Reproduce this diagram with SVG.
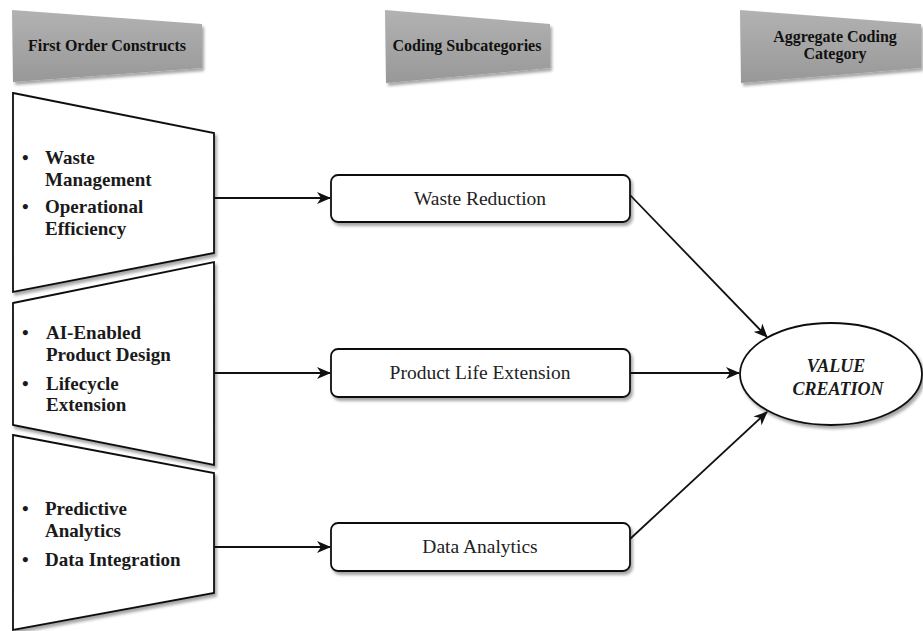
<svg xmlns="http://www.w3.org/2000/svg" width="923" height="631" viewBox="0 0 923 631">
  <style>
    .hdr { fill: url(#hdrGrad); filter: url(#shadow); }
    .hdrText { font-family: "Liberation Serif", "Times New Roman", serif; font-weight: bold; font-size: 16px; fill: #111111; text-anchor: middle; }
    .construct { fill: #ffffff; stroke: #111111; stroke-width: 1.8; filter: url(#shadow); }
    .item { font-family: "Liberation Serif", "Times New Roman", serif; font-weight: bold; font-size: 19px; fill: #1a1a1a; }
    .sub { fill: #ffffff; stroke: #111111; stroke-width: 1.8; filter: url(#shadow); }
    .subText { font-family: "Liberation Serif", "Times New Roman", serif; font-size: 19.5px; fill: #222222; text-anchor: middle; }
    .goal { fill: #ffffff; stroke: #111111; stroke-width: 1.8; filter: url(#shadow); }
    .goalText { font-family: "Liberation Serif", "Times New Roman", serif; font-weight: bold; font-style: italic; font-size: 18px; fill: #1a1a1a; text-anchor: middle; }
    .edge { fill: none; stroke: #111111; stroke-width: 1.8; marker-end: url(#arrow); }
  </style>
  <defs>
    <linearGradient id="hdrGrad" x1="0" y1="0" x2="0" y2="1">
      <stop offset="0" stop-color="#b2b2b2"/>
      <stop offset="1" stop-color="#989898"/>
    </linearGradient>
    <filter id="shadow" x="-10%" y="-10%" width="125%" height="130%">
      <feDropShadow dx="2" dy="3" stdDeviation="1.8" flood-color="#000000" flood-opacity="0.35"/>
    </filter>
    <marker id="arrow" viewBox="0 0 14 12" refX="13" refY="6" markerWidth="14" markerHeight="12" markerUnits="userSpaceOnUse" orient="auto">
      <path d="M0,0 L14,6 L0,12 L4,6 z" fill="#111111"/>
    </marker>
  </defs>

  <!-- column headers -->
  <g id="header-constructs">
    <path class="hdr" d="M12,10 L202,24 L202,68 L13,82 z"/>
    <text class="hdrText" x="107" y="51">First Order Constructs</text>
  </g>
  <g id="header-subcategories">
    <path class="hdr" d="M385,10 L550,24 L550,68 L386,83 z"/>
    <text class="hdrText" x="467" y="51">Coding Subcategories</text>
  </g>
  <g id="header-aggregate">
    <path class="hdr" d="M740,10 L921,24 L921,68 L741,83 z"/>
    <text class="hdrText" x="835" y="42">Aggregate Coding</text>
    <text class="hdrText" x="835" y="59">Category</text>
  </g>

  <!-- first order constructs -->
  <g id="construct-waste">
    <path class="construct" d="M13,93 L214,133 L214,253 L13,292 z"/>
    <text class="item" x="22" y="164">•</text>
    <text class="item" x="45" y="164">Waste</text>
    <text class="item" x="45" y="186">Management</text>
    <text class="item" x="22" y="213">•</text>
    <text class="item" x="45" y="213">Operational</text>
    <text class="item" x="45" y="235">Efficiency</text>
  </g>
  <g id="construct-product">
    <path class="construct" d="M13,303 L214,262 L214,465 L13,425 z"/>
    <text class="item" x="22" y="339">•</text>
    <text class="item" x="46" y="339">AI-Enabled</text>
    <text class="item" x="46" y="361">Product Design</text>
    <text class="item" x="22" y="390">•</text>
    <text class="item" x="46" y="390">Lifecycle</text>
    <text class="item" x="46" y="411">Extension</text>
  </g>
  <g id="construct-data">
    <path class="construct" d="M13,435 L214,473 L214,593 L13,630 z"/>
    <text class="item" x="22" y="515">•</text>
    <text class="item" x="45" y="515">Predictive</text>
    <text class="item" x="45" y="537">Analytics</text>
    <text class="item" x="22" y="566">•</text>
    <text class="item" x="45" y="566">Data Integration</text>
  </g>

  <!-- coding subcategories -->
  <g id="sub-waste-reduction">
    <rect class="sub" x="331" y="175" width="299" height="47" rx="7"/>
    <text class="subText" x="480" y="205">Waste Reduction</text>
  </g>
  <g id="sub-product-life">
    <rect class="sub" x="331" y="349" width="299" height="48" rx="7"/>
    <text class="subText" x="480" y="379">Product Life Extension</text>
  </g>
  <g id="sub-data-analytics">
    <rect class="sub" x="331" y="523" width="299" height="48" rx="7"/>
    <text class="subText" x="480" y="553">Data Analytics</text>
  </g>

  <!-- aggregate category -->
  <g id="value-creation">
    <ellipse class="goal" cx="831" cy="374" rx="91" ry="51"/>
    <text class="goalText" x="836" y="372">VALUE</text>
    <text class="goalText" x="838" y="395">CREATION</text>
  </g>

  <!-- connectors -->
  <g id="connectors">
    <line class="edge" x1="214" y1="198" x2="330" y2="198"/>
    <line class="edge" x1="214" y1="373" x2="330" y2="373"/>
    <line class="edge" x1="214" y1="547" x2="330" y2="547"/>
    <line class="edge" x1="630" y1="195" x2="767" y2="337"/>
    <line class="edge" x1="630" y1="373" x2="739" y2="373"/>
    <line class="edge" x1="630" y1="539" x2="767" y2="412"/>
  </g>
</svg>
